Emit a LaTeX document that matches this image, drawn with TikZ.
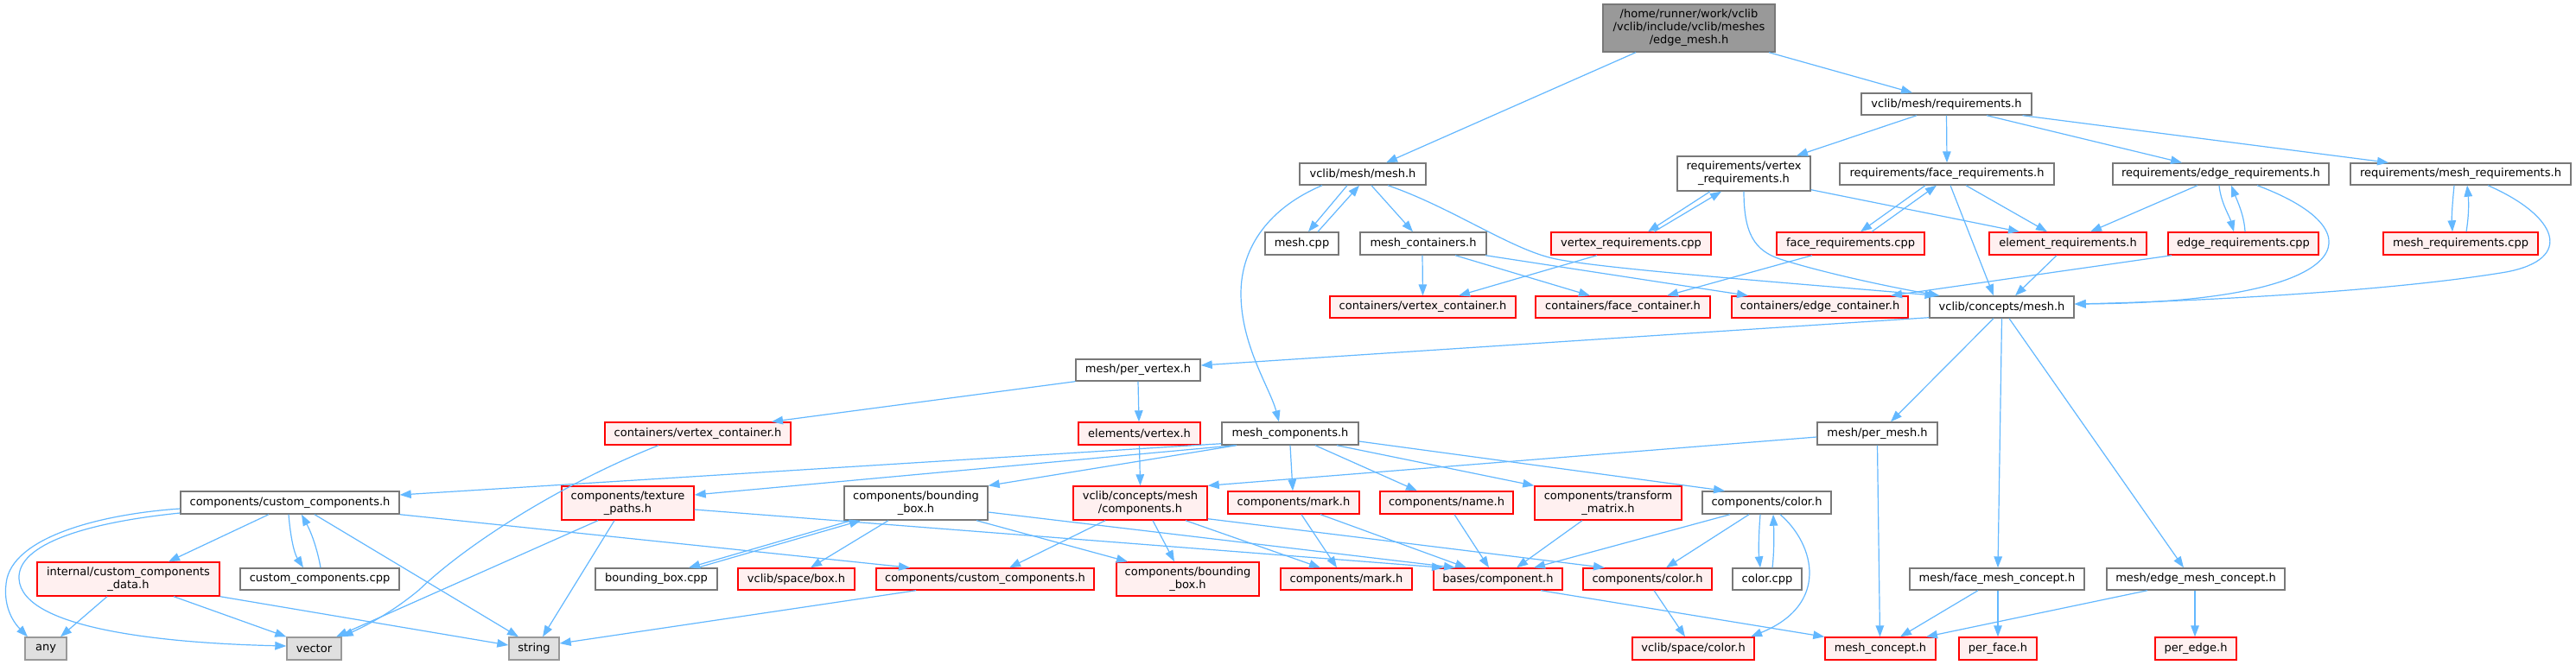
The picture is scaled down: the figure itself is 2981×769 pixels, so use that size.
\documentclass[tikz,border=0pt]{standalone}
\usepackage{fontspec}
\setmainfont{DejaVu Sans}
\usetikzlibrary{arrows.meta}
\definecolor{edgeblue}{HTML}{63B8FF}
\definecolor{nodegrey}{HTML}{787878}
\definecolor{redfill}{HTML}{FFF0F0}
\definecolor{rootfill}{HTML}{999999}
\definecolor{sysfill}{HTML}{E0E0E0}
\definecolor{sysborder}{HTML}{999999}
\tikzset{
  basebox/.style={draw, rectangle, inner sep=0pt, align=center, line width=1.4pt, text=black,
    font=\fontsize{13}{15}\selectfont},
  plainbox/.style={basebox, draw=nodegrey, fill=white},
  redbox/.style={basebox, draw=red, fill=redfill},
  rootbox/.style={basebox, draw=nodegrey, fill=rootfill},
  sysbox/.style={basebox, draw=sysborder, fill=sysfill},
  dep/.style={draw=edgeblue, line width=1.2pt, -{Triangle[length=13pt,width=9.5pt]}},
}
\newcommand{\nd}[7]{\node[#6, minimum width={#4-#2}, minimum height={#5-#3}] (#1) at ({(#2+#4)/2},{(#3+#5)/2}) {#7};}
\begin{document}
\begin{tikzpicture}[x=1pt,y=-1pt]
\useasboundingbox[fill=white] (0,0) rectangle (2981,769);
% nodes
\nd{root}{1855}{5}{2054}{60}{rootbox}{/home/runner/work/vclib\\/vclib/include/vclib/meshes\\/edge\_mesh.h}
\nd{req}{2154}{108}{2351}{133}{plainbox}{vclib/mesh/requirements.h}
\nd{meshh}{1504}{189}{1650}{214}{plainbox}{vclib/mesh/mesh.h}
\nd{vreqh}{1941}{181}{2095}{221}{plainbox}{requirements/vertex\\\_requirements.h}
\nd{freqh}{2129}{189}{2377}{214}{plainbox}{requirements/face\_requirements.h}
\nd{ereqh}{2445}{189}{2695}{214}{plainbox}{requirements/edge\_requirements.h}
\nd{mreqh}{2720}{189}{2975}{214}{plainbox}{requirements/mesh\_requirements.h}
\nd{meshcpp}{1464}{269}{1549}{295}{plainbox}{mesh.cpp}
\nd{mcont}{1574}{269}{1720}{295}{plainbox}{mesh\_containers.h}
\nd{vreqcpp}{1795}{269}{1980}{295}{redbox}{vertex\_requirements.cpp}
\nd{freqcpp}{2056}{269}{2227}{295}{redbox}{face\_requirements.cpp}
\nd{elreq}{2302}{269}{2484}{295}{redbox}{element\_requirements.h}
\nd{ereqcpp}{2509}{269}{2683}{295}{redbox}{edge\_requirements.cpp}
\nd{mreqcpp}{2758}{269}{2937}{295}{redbox}{mesh\_requirements.cpp}
\nd{vcontA}{1539}{343}{1754}{368}{redbox}{containers/vertex\_container.h}
\nd{fcont}{1777}{343}{1979}{368}{redbox}{containers/face\_container.h}
\nd{econt}{2004}{343}{2208}{368}{redbox}{containers/edge\_container.h}
\nd{cmesh}{2233}{343}{2400}{368}{plainbox}{vclib/concepts/mesh.h}
\nd{pervert}{1245}{416}{1389}{441}{plainbox}{mesh/per\_vertex.h}
\nd{vcontB}{700}{489}{915}{515}{redbox}{containers/vertex\_container.h}
\nd{elvert}{1248}{489}{1389}{515}{redbox}{elements/vertex.h}
\nd{mcomp}{1414}{489}{1572}{515}{plainbox}{mesh\_components.h}
\nd{permesh}{2103}{489}{2242}{515}{plainbox}{mesh/per\_mesh.h}
\nd{custw}{209}{569}{462}{595}{plainbox}{components/custom\_components.h}
\nd{texture}{650}{563}{803}{602}{redbox}{components/texture\\\_paths.h}
\nd{bboxw}{977}{563}{1143}{602}{plainbox}{components/bounding\\\_box.h}
\nd{ccomp}{1242}{563}{1397}{602}{redbox}{vclib/concepts/mesh\\/components.h}
\nd{markw}{1421}{569}{1573}{595}{redbox}{components/mark.h}
\nd{name}{1597}{569}{1751}{595}{redbox}{components/name.h}
\nd{transf}{1776}{563}{1946}{602}{redbox}{components/transform\\\_matrix.h}
\nd{colorw}{1970}{569}{2119}{595}{plainbox}{components/color.h}
\nd{ccdata}{43}{651}{254}{690}{redbox}{internal/custom\_components\\\_data.h}
\nd{custcpp}{278}{658}{462}{683}{plainbox}{custom\_components.cpp}
\nd{bboxcpp}{689}{658}{830}{683}{plainbox}{bounding\_box.cpp}
\nd{box}{854}{658}{989}{683}{redbox}{vclib/space/box.h}
\nd{custr}{1014}{658}{1266}{683}{redbox}{components/custom\_components.h}
\nd{bboxr}{1292}{651}{1457}{690}{redbox}{components/bounding\\\_box.h}
\nd{markr}{1482}{658}{1634}{683}{redbox}{components/mark.h}
\nd{bases}{1659}{658}{1808}{683}{redbox}{bases/component.h}
\nd{colorr}{1832}{658}{1981}{683}{redbox}{components/color.h}
\nd{colorcpp}{2005}{658}{2085}{683}{plainbox}{color.cpp}
\nd{fmc}{2210}{658}{2412}{683}{plainbox}{mesh/face\_mesh\_concept.h}
\nd{emc}{2438}{658}{2644}{683}{plainbox}{mesh/edge\_mesh\_concept.h}
\nd{any}{29}{738}{77}{764}{sysbox}{any}
\nd{vector}{332}{738}{395}{764}{sysbox}{vector}
\nd{string}{589}{738}{647}{764}{sysbox}{string}
\nd{scolor}{1889}{738}{2030}{764}{redbox}{vclib/space/color.h}
\nd{mconcept}{2112}{738}{2240}{764}{redbox}{mesh\_concept.h}
\nd{perface}{2267}{738}{2357}{764}{redbox}{per\_face.h}
\nd{peredge}{2494}{738}{2588}{764}{redbox}{per\_edge.h}
% edges, top part
\draw[dep] ([xshift=-61.5]root.south) -- ([xshift=27]meshh.north);
\draw[dep] ([xshift=92.5]root.south) -- ([xshift=-39.5]req.north);
\draw[dep] ([xshift=-34.5]req.south) -- ([xshift=61]vreqh.north);
\draw[dep] (req.south) -- (freqh.north);
\draw[dep] ([xshift=46.5]req.south) -- ([xshift=-45]ereqh.north);
\draw[dep] ([xshift=88]req.south) -- ([xshift=-83.5]mreqh.north);
\draw[dep] ([xshift=-18]meshh.south) -- ([xshift=7.5]meshcpp.north);
\draw[dep] ([xshift=18.5]meshcpp.north) -- ([xshift=-4]meshh.south);
\draw[dep] ([xshift=10]meshh.south) -- ([xshift=-12]mcont.north);
\draw[dep] ([xshift=29]meshh.south) .. controls (1680,240) and (1750,290) .. (1801,300) .. controls (1860,312) and (2100,330) .. ([xshift=-76]cmesh.north);
\draw[dep] ([xshift=-47]meshh.south) .. controls (1470,240) and (1436,285) .. (1436,340) .. controls (1436,400) and (1470,450) .. ([xshift=-13]mcomp.north);
\draw[dep] ([xshift=-1]mcont.south) -- (vcontA.north);
\draw[dep] ([xshift=37]mcont.south) -- ([xshift=-38]fcont.north);
\draw[dep] ([xshift=72]mcont.south) -- ([xshift=-83]econt.north);
\draw[dep] ([xshift=-39]vreqh.south) -- ([xshift=19.5]vreqcpp.north);
\draw[dep] ([xshift=26.5]vreqcpp.north) -- ([xshift=-26]vreqh.south);
\draw[dep] ([yshift=2]vreqh.south east) -- ([xshift=-56]elreq.north);
\draw[dep] (vreqh.south) .. controls (2018,270) and (2030,290) .. (2060,300) .. controls (2110,316) and (2190,333) .. ([xshift=-72]cmesh.north);
\draw[dep] ([xshift=-39.5]vreqcpp.south) -- ([xshift=41.5]vcontA.north);
\draw[dep] ([xshift=-25]freqh.south) -- ([xshift=11.5]freqcpp.north);
\draw[dep] ([xshift=24.5]freqcpp.north) -- ([xshift=-12]freqh.south);
\draw[dep] ([xshift=22]freqh.south) -- ([xshift=-24]elreq.north);
\draw[dep] ([xshift=4]freqh.south) -- ([xshift=-9.5]cmesh.north);
\draw[dep] ([xshift=-44.5]freqcpp.south) -- ([xshift=51]fcont.north);
\draw[dep] ([xshift=-27]ereqh.south) -- ([xshift=26]elreq.north);
\draw[dep] ([xshift=-2]ereqh.south) .. controls (2570,235) and (2580,250) .. ([xshift=-11]ereqcpp.north);
\draw[dep] ([xshift=2]ereqcpp.north) .. controls (2597,250) and (2590,235) .. ([xshift=12]ereqh.south);
\draw[dep] ([xshift=42]ereqh.south) .. controls (2760,270) and (2720,350) .. ([yshift=3.5]cmesh.east);
\draw[dep] ([xshift=-83]ereqcpp.south) -- ([xshift=82]econt.north);
\draw[dep] ([xshift=-7.5]mreqh.south) .. controls (2838,235) and (2837,250) .. ([xshift=-9.5]mreqcpp.north);
\draw[dep] ([xshift=6.5]mreqcpp.north) .. controls (2857,250) and (2857,235) .. ([xshift=7.5]mreqh.south);
\draw[dep] ([xshift=31.5]mreqh.south) .. controls (2960,250) and (2980,300) .. (2900,315) .. controls (2750,340) and (2500,350) .. ([yshift=3.5]cmesh.east);
\draw[dep] ([xshift=-13]elreq.south) -- ([xshift=15.5]cmesh.north);
% middle part
\draw[dep] ([yshift=1]cmesh.south west) -- ([yshift=5.5]pervert.east);
\draw[dep] ([xshift=-9.5]cmesh.south) -- ([xshift=15.5]permesh.north);
\draw[dep] (cmesh.south) -- ([xshift=1]fmc.north);
\draw[dep] ([xshift=8.5]cmesh.south) -- ([xshift=-14]emc.north);
\draw[dep] (pervert.south west) -- ([xshift=85.5]vcontB.north);
\draw[dep] (pervert.south) -- ([xshift=-0.5]elvert.north);
\draw[dep] ([xshift=-45.5]vcontB.south) .. controls (650,560) and (540,630) .. (485,683) .. controls (450,712) and (420,726) .. (vector.north east);
\draw[dep] (elvert.south) -- (ccomp.north);
\draw[dep] ([yshift=2]mcomp.south west) -- ([yshift=9]custw.east);
\draw[dep] ([xshift=-64]mcomp.south) -- ([yshift=9.5]texture.east);
\draw[dep] ([xshift=-62]mcomp.south) -- (bboxw.north east);
\draw[dep] (mcomp.south) -- ([xshift=-1]markw.north);
\draw[dep] ([xshift=29]mcomp.south) -- ([xshift=-34]name.north);
\draw[dep] ([xshift=54]mcomp.south) -- (transf.north west);
\draw[dep] ([yshift=-9]mcomp.east) -- ([xshift=-48.5]colorw.north);
\draw[dep] ([yshift=-4]permesh.west) -- (ccomp.north east);
\draw[dep] (permesh.south) -- ([xshift=-0.5]mconcept.north);
% lower part
\draw[dep] ([xshift=-24.5]custw.south) -- ([xshift=46.5]ccdata.north);
\draw[dep] ([xshift=-1.5]custw.south) .. controls (336,620) and (340,640) .. ([xshift=-19]custcpp.north);
\draw[dep] ([xshift=1]custcpp.north) .. controls (368,640) and (362,620) .. ([xshift=13.5]custw.south);
\draw[dep] ([yshift=-7]custw.west) .. controls (120,595) and (20,620) .. (8,670) .. controls (2,700) and (15,720) .. ([xshift=-21]any.north);
\draw[dep] ([yshift=-12]custw.west) .. controls (100,605) and (20,630) .. (22,670) .. controls (25,730) and (200,745) .. ([yshift=3]vector.west);
\draw[dep] ([xshift=28.5]custw.south) -- ([xshift=-18]string.north);
\draw[dep] (custw.south east) -- ([xshift=-87]custr.north);
\draw[dep] ([xshift=-24.5]ccdata.south) -- ([xshift=17]any.north);
\draw[dep] ([xshift=52.5]ccdata.south) -- (vector.north west);
\draw[dep] (ccdata.south east) -- ([yshift=4]string.west);
\draw[dep] ([xshift=-34.5]texture.south) -- ([xshift=25.5]vector.north);
\draw[dep] ([xshift=-15.5]texture.south) -- ([xshift=10]string.north);
\draw[dep] ([yshift=-7.5]texture.east) -- ([xshift=-63.5]bases.north);
\draw[dep] ([xshift=-75]bboxw.south) -- ([xshift=37.5]bboxcpp.north);
\draw[dep] ([xshift=47.5]bboxcpp.north) -- ([xshift=-64]bboxw.south);
\draw[dep] ([xshift=-32]bboxw.south) -- ([xshift=16.5]box.north);
\draw[dep] ([xshift=70]bboxw.south) -- ([xshift=-69.5]bboxr.north);
\draw[dep] ([yshift=-10.5]bboxw.east) -- ([xshift=-49.5]bases.north);
\draw[dep] ([xshift=-40.5]ccomp.south) -- ([xshift=28]custr.north);
\draw[dep] ([xshift=14.5]ccomp.south) -- ([xshift=-15.5]bboxr.north);
\draw[dep] ([xshift=52.5]ccomp.south) -- ([xshift=-30]markr.north);
\draw[dep] ([yshift=2]ccomp.south east) -- ([xshift=-49.5]colorr.north);
\draw[dep] ([xshift=9]markw.south) -- ([xshift=-11]markr.north);
\draw[dep] ([xshift=31]markw.south) -- ([xshift=-36.5]bases.north);
\draw[dep] ([xshift=9]name.south) -- ([xshift=-10.5]bases.north);
\draw[dep] ([xshift=-30]transf.south) -- ([xshift=21.5]bases.north);
\draw[dep] ([xshift=-42.5]colorw.south) -- ([xshift=41.5]bases.north);
\draw[dep] ([xshift=-20.5]colorw.south) -- ([xshift=21.5]colorr.north);
\draw[dep] ([xshift=-7.5]colorw.south) .. controls (2035,620) and (2035,640) .. ([xshift=-8]colorcpp.north);
\draw[dep] ([xshift=6]colorcpp.north) .. controls (2053,640) and (2053,620) .. ([xshift=7.5]colorw.south);
\draw[dep] ([xshift=15.5]colorw.south) .. controls (2100,630) and (2118,700) .. ([xshift=66.5]scolor.north);
\draw[dep] ([xshift=7.5]colorr.south) -- ([xshift=-9.5]scolor.north);
\draw[dep] ([xshift=49.5]bases.south) -- (mconcept.north west);
\draw[dep] ([xshift=-22]fmc.south) -- ([xshift=23]mconcept.north);
\draw[dep] ([xshift=1]fmc.south) -- (perface.north);
\draw[dep] ([xshift=-56]emc.south) -- ([xshift=53]mconcept.north);
\draw[dep] ([xshift=-1]emc.south) -- ([xshift=-1]peredge.north);
\draw[dep] ([xshift=-80]custr.south) -- ([yshift=6]string.east);
\end{tikzpicture}
\end{document}
